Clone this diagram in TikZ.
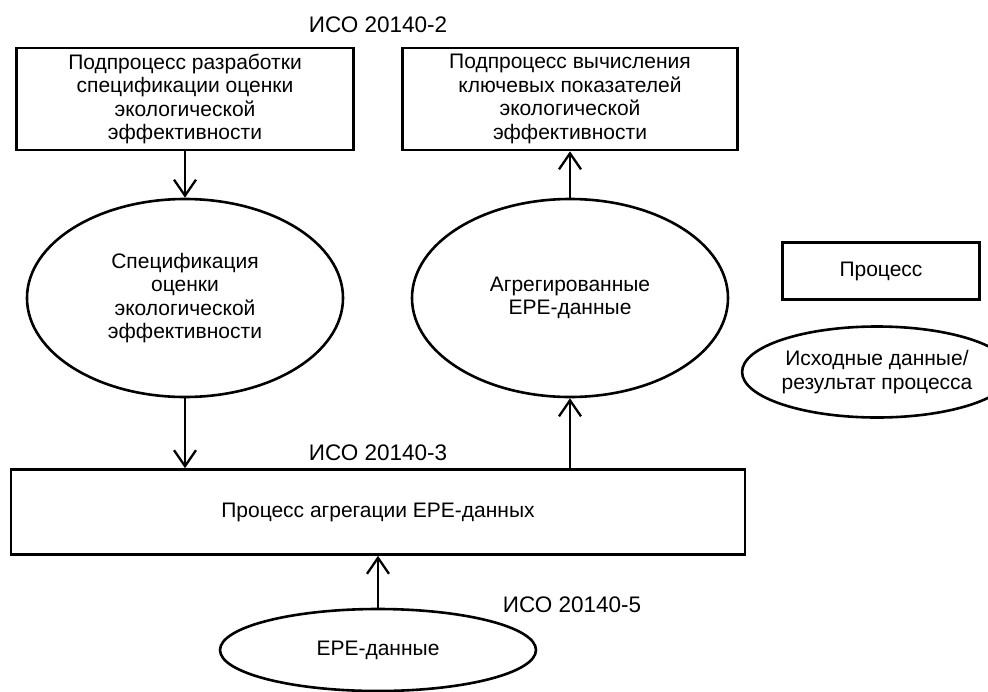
\documentclass[tikz,border=0pt]{standalone}
\usepackage{fontspec}
\setmainfont{Liberation Sans}
\usetikzlibrary{arrows.meta,shapes.geometric}

\tikzset{
    procbox/.style={draw, line width=2.6pt, rectangle, align=center, inner sep=2pt},
    databubble/.style={draw, line width=2.6pt, ellipse, align=center, inner sep=0pt},
    isolabel/.style={inner sep=0pt, font=\fontsize{22.5}{25}\selectfont},
    flow/.style={line width=2.3pt, -{Straight Barb[length=16pt, width=22pt]}}
}

\begin{document}
\begin{tikzpicture}[x=1pt, y=-1pt, font=\fontsize{21}{23.5}\selectfont]
            \useasboundingbox (0,0) rectangle (988,691);

            % Standard labels
            \node[isolabel] (iso2) at (378,25) {ИСО 20140-2};
            \node[isolabel] (iso3) at (378,453) {ИСО 20140-3};
            \node[isolabel] (iso5) at (572,605) {ИСО 20140-5};

            % Subprocesses on top
            \node[procbox, minimum width=337pt, minimum height=102pt] (specDev) at (185,99)
                {Подпроцесс разработки\\спецификации оценки\\экологической\\эффективности};
            \node[procbox, minimum width=335pt, minimum height=102pt] (kpiCalc) at (570,99)
                {Подпроцесс вычисления\\ключевых показателей\\экологической\\эффективности};

            % Data in the middle
            \node[databubble, minimum width=316pt, minimum height=198pt] (specData) at (185,298)
                {Спецификация\\оценки\\экологической\\эффективности};
            \node[databubble, minimum width=316pt, minimum height=198pt] (aggData) at (570,298)
                {Агрегированные\\EPE-данные};

            % Aggregation process and its input
            \node[procbox, minimum width=734pt, minimum height=85pt] (aggProc) at (378,512)
                {Процесс агрегации EPE-данных};
            \node[databubble, minimum width=316pt, minimum height=82pt] (epeData) at (378,650)
                {EPE-данные};

            % Legend
            \node[procbox, minimum width=197pt, minimum height=57pt] (legProc) at (881,271) {Процесс};
            \node[databubble, minimum width=220pt, minimum height=91pt] (legData) at (877,372)
                {Исходные данные/\\результат процесса};

            % draw flows
            \draw[flow] (specDev) -- (specData);
            \draw[flow] (specData.south) -- (specData.south |- aggProc.north);
            \draw[flow] (aggProc.north -| aggData.south) -- (aggData.south);
            \draw[flow] (aggData) -- (kpiCalc);
            \draw[flow] (epeData) -- (aggProc);
        \end{tikzpicture}
\end{document}
